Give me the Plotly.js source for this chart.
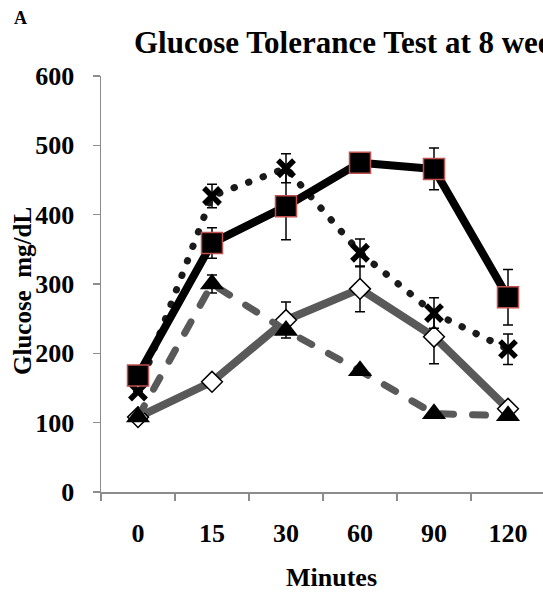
<!DOCTYPE html>
<html>
<head>
<meta charset="utf-8">
<script src="https://cdn.plot.ly/plotly-3.0.1.min.js"></script>
<style>
  html, body { margin: 0; padding: 0; background: #fff; overflow: hidden; }
  #chart { width: 700px; height: 596px; }
  .scatterlayer .trace:nth-child(2) path.js-line,
  .scatterlayer .trace:nth-child(3) path.js-line { stroke-linecap: round; }
  .scatterlayer path.js-line { stroke-linejoin: round; }
</style>
</head>
<body>
<div id="chart"></div>
<script>
// ---- data ----
const minutes = ['0', '15', '30', '60', '90', '120'];

const diamondVals = [108, 159, 248, 293, 224, 120];
const diamondErr  = [0, 0, 26, 33, 39, 0];

const triangleVals = [108, 300, 233, 175, 113, 110];
const triangleErr  = [0, 13, 0, 0, 0, 0];

const crossVals = [145, 427, 467, 345, 258, 206];
const crossErr  = [0, 17, 21, 20, 22, 22];

const squareVals = [168, 359, 412, 475, 466, 281];
const squareErr  = [0, 22, 48, 0, 30, 40];

const yTicks = [0, 100, 200, 300, 400, 500, 600];

const titleText = 'Glucose Tolerance Test at 8 weeks';
const xTitleText = 'Minutes';
const yTitleText = 'Glucose  mg/dL';
const panelLabel = 'A';

// ---- layout geometry ----
const W = 700, H = 596;
const L = 101, R = 545, T = 76, B = 492;
const px = x => (x - L) / (R - L);
const py = y => (B - y) / (B - T);

const serif = 'Liberation Serif, Times New Roman, serif';
const gray = '#595959';
const axisGray = '#8c8c8c';

function err(arr) {
  return { type: 'data', array: arr, visible: true, color: '#000', thickness: 1.5, width: 5 };
}

const traces = [
  {
    x: minutes, y: diamondVals, type: 'scatter', mode: 'lines+markers', name: 'diamond',
    line: { color: gray, width: 8 },
    marker: { symbol: 'diamond', size: 16, color: '#fff', line: { color: '#000', width: 1.5 } },
    error_y: err(diamondErr)
  },
  {
    x: minutes, y: triangleVals, type: 'scatter', mode: 'lines+markers', name: 'triangle',
    line: { color: gray, width: 7, dash: '13px,19px' },
    marker: { symbol: 'triangle-up', size: 21, color: '#000' },
    error_y: err(triangleErr)
  },
  {
    x: minutes, y: crossVals, type: 'scatter', mode: 'lines+markers', name: 'cross',
    line: { color: '#1a1a1a', width: 7, dash: '0.5px,15px' },
    marker: { symbol: 'x-thin', size: 16, color: '#000', line: { color: '#000', width: 5.5 } },
    error_y: err(crossErr)
  },
  {
    x: minutes, y: squareVals, type: 'scatter', mode: 'lines+markers', name: 'square',
    line: { color: '#000', width: 8 },
    marker: { symbol: 'square', size: 21, color: '#000', line: { color: '#c0504d', width: 1.5 } },
    error_y: err(squareErr)
  }
];

const layout = {
  width: W, height: H,
  margin: { l: L, r: W - R, t: T, b: H - B, pad: 0 },
  paper_bgcolor: '#fff', plot_bgcolor: '#fff',
  showlegend: false,
  font: { family: serif, color: '#000' },
  xaxis: {
    type: 'category', range: [-0.5, 5.5], tickson: 'boundaries',
    ticks: 'outside', ticklen: 7, tickwidth: 1.5, tickcolor: axisGray,
    showline: true, linecolor: axisGray, linewidth: 1.5,
    showgrid: false, zeroline: false,
    tickfont: { family: serif, size: 26, color: '#000', weight: 'bold' },
    ticklabelstandoff: 17
  },
  yaxis: {
    range: [0, 600], tickvals: yTicks, ticktext: yTicks.map(String),
    ticks: 'outside', ticklen: 7, tickwidth: 1.5, tickcolor: axisGray,
    showline: true, linecolor: axisGray, linewidth: 1.5,
    showgrid: false, zeroline: false,
    tickfont: { family: serif, size: 26, color: '#000', weight: 'bold' },
    ticklabelstandoff: 13
  },
  annotations: [
    { text: panelLabel, xref: 'paper', yref: 'paper', x: px(12), y: py(18), xanchor: 'left', yanchor: 'middle',
      showarrow: false, font: { family: serif, size: 18, color: '#000', weight: 'bold' } },
    { text: titleText, xref: 'paper', yref: 'paper', x: px(132), y: py(42), xanchor: 'left', yanchor: 'middle',
      showarrow: false, font: { family: serif, size: 31, color: '#000', weight: 'bold' } },
    { text: xTitleText, xref: 'paper', yref: 'paper', x: px(331), y: py(577), xanchor: 'center', yanchor: 'middle',
      showarrow: false, font: { family: serif, size: 26, color: '#000', weight: 'bold' } },
    { text: yTitleText, xref: 'paper', yref: 'paper', x: px(22), y: py(291), xanchor: 'center', yanchor: 'middle',
      textangle: -90, showarrow: false, font: { family: serif, size: 25, color: '#000', weight: 'bold' } }
  ]
};

Plotly.newPlot('chart', traces, layout, { staticPlot: true, displayModeBar: false });
</script>
</body>
</html>
